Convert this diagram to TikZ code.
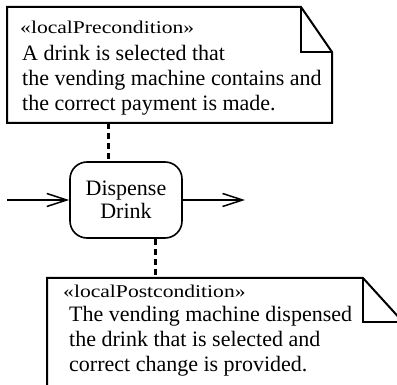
\documentclass[tikz,border=0pt]{standalone}
\usepackage{fontspec}
\setmainfont{Liberation Serif}
\newfontfamily\stereofont[FakeStretch=1.2]{Liberation Serif}
\usetikzlibrary{arrows.meta}
\begin{document}
\begin{tikzpicture}[x=1pt,y=-1pt,
  noteline/.style={line width=2pt, line join=miter},
  stereo/.style={anchor=base west, inner sep=0pt, font=\stereofont\fontsize{18}{20}\selectfont},
  bodytext/.style={anchor=base west, inner sep=0pt, font=\fontsize{22}{25}\selectfont},
  actbox/.style={draw, line width=1.6pt, rounded corners=17pt, minimum width=112pt, minimum height=76pt, inner sep=0pt, align=center, font=\fontsize{22}{23}\selectfont},
  flow/.style={line width=1.5pt, -{Straight Barb[length=20pt, width=13pt, line width=1.5pt]}},
  anchorline/.style={line width=3pt, dash pattern=on 6pt off 4pt}
]
\useasboundingbox (0,0) rectangle (397,385);
\clip (0,0) rectangle (397,385);
\fill[white] (0,0) rectangle (397,385);

% top note
\coordinate (preNW) at (7,7);
\coordinate (preSE) at (332,123);
\coordinate (preF) at (301,52);
\draw[noteline] (preNW) -- (preF |- preNW) -- (preSE |- preF) -- (preSE) -- (preNW |- preSE) -- cycle;
\draw[noteline] (preF |- preNW) -- (preF) -- (preSE |- preF);
\node[stereo] (preS) at (20,34) {«localPrecondition»};
\node[bodytext] (preT1) at (22,61) {A drink is selected that};
\node[bodytext] (preT2) at (22,86) {the vending machine contains and};
\node[bodytext] (preT3) at (22,111) {the correct payment is made.};

% action
\node[actbox] (act) at (126,200) {Dispense\\Drink};
\coordinate (inS) at (7,200);
\coordinate (outE) at (245,200);
\draw[flow] (inS) -- (act.west);
\draw[flow] (act.east) -- (outE);

% bottom note
\coordinate (postNW) at (47,278);
\coordinate (postSE) at (403,395);
\coordinate (postF) at (363,322);
\draw[noteline] (postNW) -- (postF |- postNW) -- (postSE |- postF) -- (postSE) -- (postNW |- postSE) -- cycle;
\draw[noteline] (postF |- postNW) -- (postF) -- (postSE |- postF);
\node[stereo] (postS) at (63,298) {«localPostcondition»};
\node[bodytext] (postT1) at (69,322) {The vending machine dispensed};
\node[bodytext] (postT2) at (69,347) {the drink that is selected and};
\node[bodytext] (postT3) at (69,372) {correct change is provided.};

% anchors
\coordinate (c1) at (108,0);
\coordinate (c2) at (155,0);
\draw[anchorline] (c1 |- preSE) -- (c1 |- act.north);
\draw[anchorline] (c2 |- act.south) -- (c2 |- postNW);
\end{tikzpicture}
\end{document}
